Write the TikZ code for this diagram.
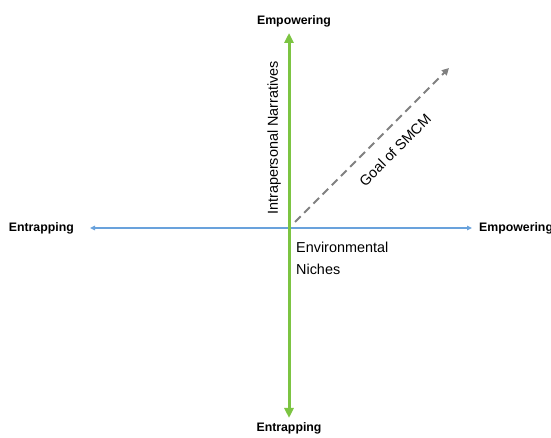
\documentclass[tikz,border=0pt]{standalone}
\usepackage{fontspec}
\setmainfont{Liberation Sans}
\usepackage{tikz}
\tikzset{
  pole_font/.style = {font=\fontsize{12.3}{14}\selectfont\bfseries},
  axis_font/.style = {font=\fontsize{14.4}{22}\selectfont}
}
\tikzset{
  pole/.style = {pole_font, inner sep=1pt},
  axis_label/.style = {axis_font, align=left, inner sep=1pt},
  narrative_axis/.style = {draw={rgb,255:red,124;green,196;blue,66}, line width=3pt,
      {Triangle[length=10pt, width=9pt]}-{Triangle[length=10pt, width=9pt]}},
  niche_axis/.style = {draw={rgb,255:red,105;green,162;blue,220}, line width=1.3pt,
      {Triangle[length=5pt, width=4.5pt]}-{Triangle[length=5pt, width=4.5pt]}},
  goal_arrow/.style = {draw={rgb,255:red,128;green,128;blue,128}, line width=2pt,
      dash pattern=on 8pt off 5pt, -{Triangle[length=7pt, width=7pt]}}
}
\usetikzlibrary{arrows.meta, positioning}

\begin{document}
\begin{tikzpicture}[x=1pt, y=1pt]
    \useasboundingbox (0,0) rectangle (551,438);

    % Axes ends
    \coordinate (o) at (289,210);
    \coordinate (n_top) at (289,405);
    \coordinate (n_bottom) at (289,20);
    \coordinate (e_left) at (90,210);
    \coordinate (e_right) at (472,210);
    \coordinate (g_start) at (295,216);
    \coordinate (g_end) at (449,370);

    % Pole labels
    \node[pole, above=5pt of n_top, xshift=5pt] (top_pole) {Empowering};
    \node[pole, below=3pt of n_bottom] (bottom_pole) {Entrapping};
    \node[pole, left=15pt of e_left] (left_pole) {Entrapping};
    \node[pole, right=6pt of e_right] (right_pole) {Empowering};

    % Axis labels
    \node[axis_label, rotate=90, anchor=south west] at (282,222) (narratives) {
        Intrapersonal Narratives};
    \node[axis_label, anchor=north west] at (295,197) (niches) {
        Environmental\\Niches};
    \node[axis_label, rotate=45] at (395,288) (goal) {
        Goal of SMCM};

    % Arrows
    \draw[niche_axis] (e_left)--(e_right);
    \draw[narrative_axis] (n_bottom)--(n_top);
    \draw[goal_arrow] (g_start)--(g_end);
\end{tikzpicture}
\end{document}
